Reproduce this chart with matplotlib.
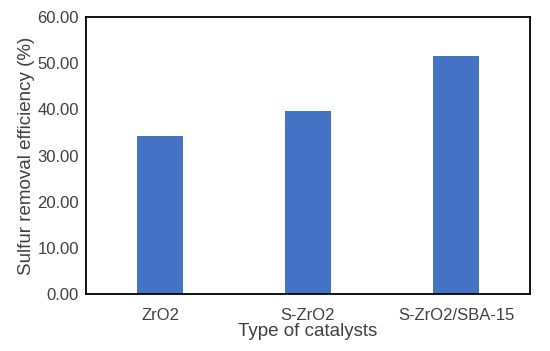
import matplotlib
matplotlib.use('Agg')
import matplotlib.pyplot as plt

plt.rcParams['font.family'] = ['Liberation Sans', 'DejaVu Sans']

catalysts = ['ZrO2', 'S-ZrO2', 'S-ZrO2/SBA-15']
efficiency = [34.3, 39.6, 51.6]
yticks = [0, 10, 20, 30, 40, 50, 60]

fig = plt.figure(figsize=(5.5, 3.51), dpi=100)
ax = fig.add_axes([86/550, 1-294/351, 444/550, 277/351])

x = range(len(catalysts))
ax.bar(x, efficiency, width=0.31, color='#4472C4')
ax.set_xlim(-0.5, 2.5)
ax.set_ylim(0, 60)
ax.set_yticks(yticks)
ax.set_yticklabels(['%.2f' % v for v in yticks])
ax.set_xticks(list(x))
ax.set_xticklabels(catalysts)
ax.tick_params(length=0, labelsize=12, colors='#404040', pad=5)
ax.tick_params(axis='x', pad=10)
for s in ax.spines.values():
    s.set_linewidth(1.3)
    s.set_color('black')
ax.set_ylabel('Sulfur removal efficiency (%)', fontsize=13.5, color='#404040', labelpad=2)
ax.set_xlabel('Type of catalysts', fontsize=13.5, color='#404040', labelpad=0)

fig.savefig('out.png', dpi=100)
